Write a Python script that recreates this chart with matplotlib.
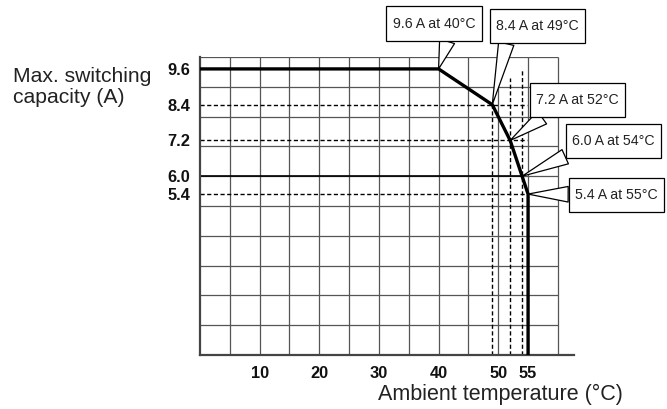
import matplotlib
matplotlib.use("Agg")
import matplotlib.pyplot as plt
from matplotlib.path import Path

plt.rcParams['font.family'] = ['Liberation Sans', 'DejaVu Sans']

# --- data ---
temps = [0, 40, 49, 52, 54, 55, 55]
currents = [9.6, 9.6, 8.4, 7.2, 6.0, 5.4, 0]

ytick_vals = [9.6, 8.4, 7.2, 6.0, 5.4]
ytick_labels = ["9.6", "8.4", "7.2", "6.0", "5.4"]
xtick_vals = [10, 20, 30, 40, 50, 55]
xtick_labels = ["10", "20", "30", "40", "50", "55"]

# horizontal reference lines: level, x end, dashed?
href_levels = [8.4, 7.2, 6.0, 5.4]
href_xend = [54.8, 54.8, 54.0, 55.0]
href_dashed = [True, True, False, True]

# vertical reference lines: temperature, top current
vref_temps = [49, 52, 54]
vref_tops = [8.4, 9.3, 9.55]

callout_texts = ["9.6 A at 40\u00b0C", "8.4 A at 49\u00b0C", "7.2 A at 52\u00b0C",
                 "6.0 A at 54\u00b0C", "5.4 A at 55\u00b0C"]
callout_pts_x = [40, 49, 52, 54, 55]
callout_pts_y = [9.6, 8.4, 7.2, 6.0, 5.4]
callout_text_x = [39.2, 56.6, 63.3, 69.3, 69.8]
callout_text_y = [11.12, 11.04, 8.56, 7.18, 5.37]
callout_relpos = [(0.7, 0.0), (0.15, 0.0), (0.25, 0.0), (0.15, 0.0), (0.0, 0.55)]

grid_x = [5, 10, 15, 20, 25, 30, 35, 40, 45, 50, 55, 60]
grid_y = [1, 2, 3, 4, 5, 6, 7, 8, 9, 10]


def callout_box(x0, y0, width, height, mutation_size):
    px = 0.45 * mutation_size
    py = 0.72 * mutation_size
    x0, y0 = x0 - px, y0 - py
    x1, y1 = x0 + width + 2 * px, y0 + height + 2 * py
    return Path([(x0, y0), (x1, y0), (x1, y1), (x0, y1), (x0, y0)], closed=True)


# --- figure ---
W, H = 667, 409
fig = plt.figure(figsize=(W / 100, H / 100), dpi=100)
ax = fig.add_axes([200 / W, 54 / H, 374 / W, 298 / H])
ax.set_xlim(0, 62.7)
ax.set_ylim(0, 10)

grid_col = '#555555'
for gx in grid_x:
    ax.plot([gx, gx], [0, 10], color=grid_col, lw=0.9, zorder=1, solid_capstyle='butt')
for gy in grid_y:
    ax.plot([0, 60], [gy, gy], color=grid_col, lw=0.9, zorder=1, solid_capstyle='butt')

for lvl, xe, dsh in zip(href_levels, href_xend, href_dashed):
    if dsh:
        ax.plot([0, xe], [lvl, lvl], color='black', lw=1.0, ls=(0, (3, 1.8)), zorder=2)
    else:
        ax.plot([0, xe], [lvl, lvl], color='black', lw=1.2, zorder=2)

for vt, top in zip(vref_temps, vref_tops):
    ax.plot([vt, vt], [0, top], color='black', lw=1.0, ls=(0, (3, 1.8)), zorder=2)

ax.plot(temps, currents, color='black', lw=2.4, zorder=4, solid_joinstyle='miter')

for s in ['top', 'right']:
    ax.spines[s].set_visible(False)
for s in ['left', 'bottom']:
    ax.spines[s].set_color('#444444')
    ax.spines[s].set_linewidth(1.6)

ax.set_yticks(ytick_vals)
ax.set_yticklabels(ytick_labels, fontsize=11.8, fontweight='bold', color='#111111')
ax.set_xticks(xtick_vals)
ax.set_xticklabels(xtick_labels, fontsize=11.8, fontweight='bold', color='#111111')
ax.tick_params(axis='y', length=0, pad=7)
ax.tick_params(axis='x', length=0, pad=8)

for t, px, py, tx, ty, rp in zip(callout_texts, callout_pts_x, callout_pts_y,
                                 callout_text_x, callout_text_y, callout_relpos):
    ax.annotate(t, xy=(px, py), xytext=(tx, ty), textcoords='data',
                ha='center', va='center', fontsize=10.2, color='#222222',
                annotation_clip=False, zorder=6,
                bbox=dict(boxstyle=callout_box, fc='white', ec='black', lw=0.9),
                arrowprops=dict(arrowstyle='wedge,tail_width=1.1,shrink_factor=0.5',
                                fc='white', ec='black', lw=0.9, relpos=rp,
                                shrinkA=0, shrinkB=0))

fig.text(13 / W, 1 - 81.7 / H, "Max. switching", fontsize=15.2, color='#222222',
         ha='left', va='baseline')
fig.text(13 / W, 1 - 103 / H, "capacity (A)", fontsize=15.2, color='#222222',
         ha='left', va='baseline')
fig.text(623 / W, 1 - 400 / H, "Ambient temperature (\u00b0C)", fontsize=15.5,
         color='#222222', ha='right', va='baseline')

fig.savefig("out.png", dpi=100)
